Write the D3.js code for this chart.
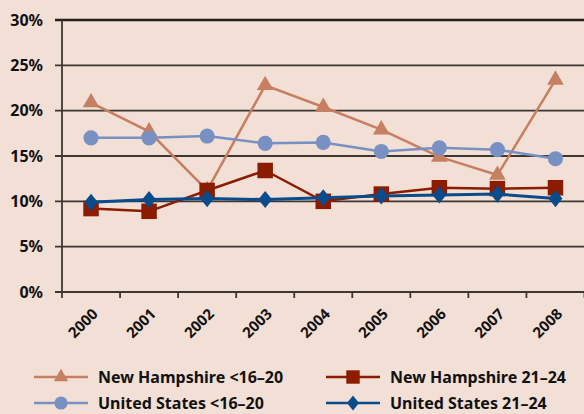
<!DOCTYPE html>
<html>
<head>
<meta charset="utf-8">
<script src="https://cdn.jsdelivr.net/npm/d3@7"></script>
<style>
  body { margin: 0; background: #f2dfd5; }
  svg { display: block; font-family: "Noto Sans", "Open Sans", sans-serif; font-weight: bold; }
</style>
</head>
<body>
<svg width="584" height="414"></svg>
<script>
// data
var years = ['2000', '2001', '2002', '2003', '2004', '2005', '2006', '2007', '2008'];
var nhYoung = [20.9, 17.7, 11.2, 22.8, 20.4, 17.9, 14.9, 12.9, 23.4];
var usYoung = [17.0, 17.0, 17.2, 16.4, 16.5, 15.5, 15.9, 15.7, 14.7];
var nhOlder = [9.2, 8.9, 11.2, 13.4, 10.0, 10.8, 11.5, 11.4, 11.5];
var usOlder = [9.9, 10.2, 10.3, 10.2, 10.4, 10.6, 10.7, 10.8, 10.3];
var yTicks = [0, 5, 10, 15, 20, 25, 30];
var seriesNames = ['New Hampshire <16\u201320', 'United States <16\u201320', 'New Hampshire 21\u201324', 'United States 21\u201324'];

var svg = d3.select('svg');

var x = d3.scaleBand().domain(years).range([62, 584.5]);
var y = d3.scaleLinear().domain([0, 30]).range([292, 20]);

// series table, drawn in this order (later on top)
var series = [
  { name: seriesNames[0], values: nhYoung, color: '#c67f60', symbol: d3.symbolTriangle, size: 120, sx: 1, width: 2.5 },
  { name: seriesNames[1], values: usYoung, color: '#7890c2', symbol: d3.symbolCircle, size: 180, sx: 1, width: 2.5 },
  { name: seriesNames[2], values: nhOlder, color: '#8b1c00', symbol: d3.symbolSquare, size: 240, sx: 1, width: 2.5 },
  { name: seriesNames[3], values: usOlder, color: '#0a4b8c', symbol: d3.symbolDiamond, size: 85, sx: 1.4, width: 3 }
];

// gridlines
svg.append('g')
  .selectAll('line')
  .data(yTicks)
  .enter()
  .append('line')
  .attr('x1', 55)
  .attr('x2', 584)
  .attr('y1', d => y(d))
  .attr('y2', d => y(d))
  .attr('stroke', d => d === 30 ? '#231f1c' : '#3d3733')
  .attr('stroke-width', d => d === 30 ? 2.5 : 1.8);

// y axis line
svg.append('line')
  .attr('x1', 62).attr('x2', 62)
  .attr('y1', y(30)).attr('y2', y(0) + 6)
  .attr('stroke', '#3d3733')
  .attr('stroke-width', 1.8);

// y labels
svg.append('g')
  .selectAll('text')
  .data(yTicks)
  .enter()
  .append('text')
  .attr('x', 43)
  .attr('y', d => y(d))
  .attr('dy', '0.36em')
  .attr('text-anchor', 'end')
  .style('font-size', '16px')
  .attr('fill', '#111')
  .text(d => d + '%');

// x ticks at band edges
var edges = years.map(d => x(d)).concat([x.range()[1]]);
svg.append('g')
  .selectAll('line')
  .data(edges.slice(1))
  .enter()
  .append('line')
  .attr('x1', d => d).attr('x2', d => d)
  .attr('y1', y(0)).attr('y2', y(0) + 6)
  .attr('stroke', '#3d3733')
  .attr('stroke-width', 1.8);

// x labels
svg.append('g')
  .selectAll('text')
  .data(years)
  .enter()
  .append('text')
  .attr('transform', d => 'translate(' + (x(d) + x.bandwidth() / 2 + 4) + ',' + (y(0) + 19) + ') rotate(-45)')
  .attr('text-anchor', 'end')
  .attr('dy', '0.36em')
  .style('font-size', '15px')
  .attr('fill', '#111')
  .text(d => d);

var cx = d => x(d) + x.bandwidth() / 2;
var line = d3.line()
  .x((d, i) => cx(years[i]))
  .y(d => y(d));

series.forEach(s => {
  var g = svg.append('g');
  g.append('path')
    .attr('d', line(s.values))
    .attr('fill', 'none')
    .attr('stroke', s.color)
    .attr('stroke-width', s.width);
  g.selectAll('path.pt')
    .data(s.values)
    .enter()
    .append('path')
    .attr('class', 'pt')
    .attr('d', d3.symbol().type(s.symbol).size(s.size))
    .attr('transform', (d, i) => 'translate(' + cx(years[i]) + ',' + y(d) + ') scale(' + s.sx + ',1)')
    .attr('fill', s.color);
});

// legend
var legendPos = [[34, 377], [34, 403], [326, 377], [326, 403]];
series.forEach((s, i) => {
  var p = legendPos[i];
  var g = svg.append('g').attr('transform', 'translate(' + p[0] + ',' + p[1] + ')');
  g.append('line')
    .attr('x1', 0).attr('x2', 54)
    .attr('stroke', s.color)
    .attr('stroke-width', 2.5);
  g.append('path')
    .attr('d', d3.symbol().type(s.symbol).size(s.size * 0.75))
    .attr('transform', 'translate(27,0) scale(' + s.sx + ',1)')
    .attr('fill', s.color);
  g.append('text')
    .attr('x', 64)
    .attr('dy', '0.36em')
    .style('font-size', '16px')
    .attr('fill', '#111')
    .text(s.name);
});
</script>
</body>
</html>
